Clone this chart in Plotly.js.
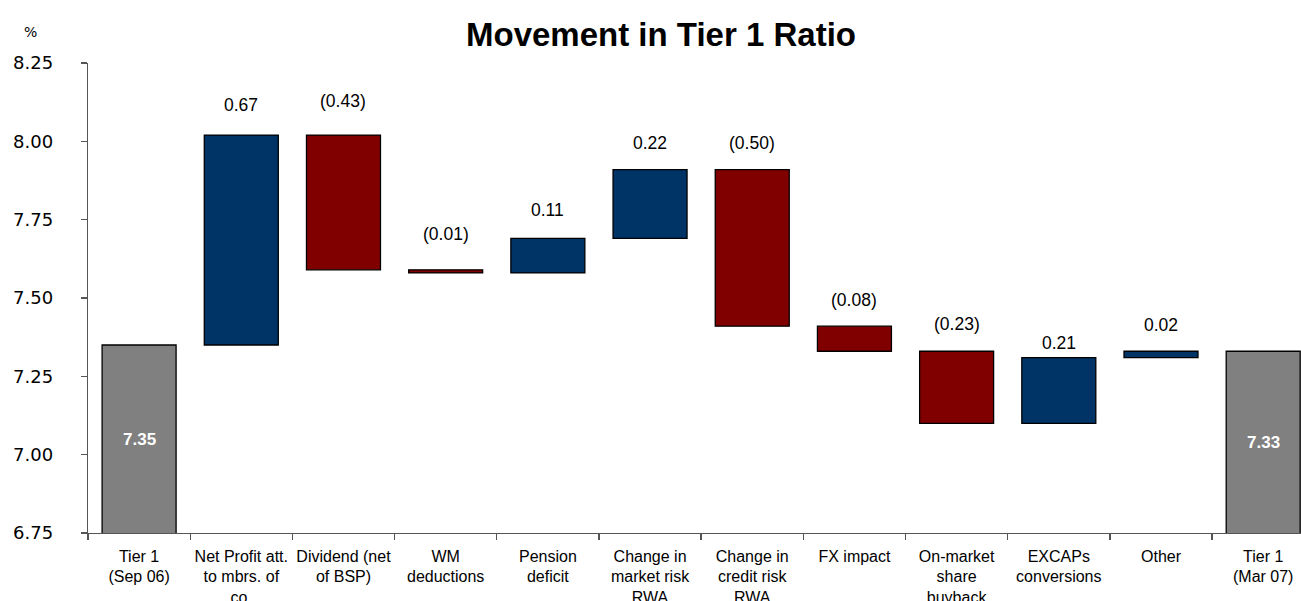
<!DOCTYPE html>
<html>
<head>
<meta charset="utf-8">
<script src="https://cdn.plot.ly/plotly-3.0.1.min.js"></script>
<style>html,body{margin:0;padding:0;background:#fff;}#chart{width:1301px;height:601px;}</style>
</head>
<body>
<div id="chart"></div>
<script>
// ---- data ----
var categories = [
  "Tier 1<br>(Sep 06)",
  "Net Profit att.<br>to mbrs. of<br>co.",
  "Dividend (net<br>of BSP)",
  "WM<br>deductions",
  "Pension<br>deficit",
  "Change in<br>market risk<br>RWA",
  "Change in<br>credit risk<br>RWA",
  "FX impact",
  "On-market<br>share<br>buyback",
  "EXCAPs<br>conversions",
  "Other",
  "Tier 1<br>(Mar 07)"
];
var startValue = 7.35;
var changes = [0.67, -0.43, -0.01, 0.11, 0.22, -0.50, -0.08, -0.23, 0.21, 0.02];
var endValue = 7.33;
var yTickVals = [6.75, 7.00, 7.25, 7.50, 7.75, 8.00, 8.25];

// ---- styling (not data) ----
var labelShiftPx = [30, 34, 36, 28, 27, 27, 26, 27, 15, 26];
var blue = "#003366", red = "#800000", grey = "#808080";
var yMin = 6.75, yMax = 8.25;
var W = 1301, H = 601, ML = 88, MT = 63, MB = 67.5;
var plotW = W - ML, plotH = H - MT - MB;

var measures = ["absolute"].concat(changes.map(function(){return "relative";})).concat(["total"]);
var yvals = [startValue].concat(changes).concat([endValue]);

var trace = {
  type: "waterfall",
  x: categories,
  y: yvals,
  measure: measures,
  textinfo: "none",
  hoverinfo: "skip",
  connector: {visible: false},
  increasing: {marker: {color: blue, line: {color: "#000", width: 1.3}}},
  decreasing: {marker: {color: red, line: {color: "#000", width: 1.3}}},
  totals: {marker: {color: grey, line: {color: "#000", width: 1.3}}},
  width: 0.724
};

var annotations = [];
var running = startValue;
changes.forEach(function(c, i) {
  var next = running + c;
  var top = Math.max(running, next);
  var txt = c < 0 ? "(" + Math.abs(c).toFixed(2) + ")" : c.toFixed(2);
  annotations.push({
    x: categories[i + 1], y: top, xref: "x", yref: "y",
    text: txt, showarrow: false, yanchor: "middle", yshift: labelShiftPx[i],
    font: {family: "Liberation Sans, Arial, sans-serif", size: 17.5, color: "#000"}
  });
  running = next;
});
[[0, startValue], [categories.length - 1, endValue]].forEach(function(p) {
  annotations.push({
    x: categories[p[0]], y: (yMin + p[1]) / 2, xref: "x", yref: "y",
    text: "<b>" + p[1].toFixed(2) + "</b>", showarrow: false, yanchor: "middle",
    font: {family: "Liberation Sans, Arial, sans-serif", size: 17, color: "#fff"}
  });
});
annotations.push({
  x: (30 - ML) / plotW, y: (H - MB - 32) / plotH, xref: "paper", yref: "paper",
  showarrow: false, text: "%", xanchor: "center", yanchor: "middle",
  font: {family: "DejaVu Sans, sans-serif", size: 14, color: "#000"}
});

var layout = {
  width: W, height: H,
  margin: {l: ML, r: 0, t: MT, b: MB, pad: 0},
  paper_bgcolor: "#fff", plot_bgcolor: "#fff",
  showlegend: false,
  title: {
    text: "<b>Movement in Tier 1 Ratio</b>",
    font: {family: "Liberation Sans, Arial, sans-serif", size: 33, color: "#000"},
    xref: "container", x: 661 / W, xanchor: "center",
    yref: "container", y: 1 - 34 / H, yanchor: "middle"
  },
  xaxis: {
    type: "category",
    range: [-0.5, 11.37],
    showgrid: false, zeroline: false,
    showline: true, linecolor: "#555", linewidth: 1.3,
    ticks: "outside", tickson: "boundaries", ticklen: 6, tickcolor: "#555", tickwidth: 1.3,
    tickfont: {family: "Liberation Sans, Arial, sans-serif", size: 16, color: "#000"},
    tickangle: 0,
    ticklabelstandoff: 8,
    fixedrange: true
  },
  yaxis: {
    range: [yMin, yMax],
    tickvals: yTickVals,
    ticktext: yTickVals.map(function(v){return v.toFixed(2);}),
    showgrid: false, zeroline: false,
    showline: true, linecolor: "#555", linewidth: 1.3,
    ticks: "outside", ticklen: 6, tickcolor: "#555", tickwidth: 1.3,
    tickfont: {family: "DejaVu Sans, Verdana, sans-serif", size: 18, color: "#000"},
    ticklabelstandoff: 24,
    fixedrange: true
  },
  annotations: annotations
};

Plotly.newPlot("chart", [trace], layout, {displayModeBar: false, staticPlot: true});
</script>
</body>
</html>
